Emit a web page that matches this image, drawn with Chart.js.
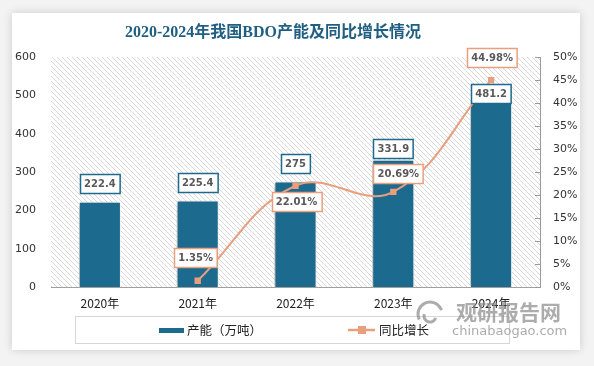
<!DOCTYPE html>
<html><head><meta charset="utf-8">
<script src="https://cdn.jsdelivr.net/npm/chart.js@4.4.1/dist/chart.umd.min.js"></script>
<style>
html,body{margin:0;padding:0;background:#f3f3f3;width:594px;height:366px;overflow:hidden}
#panel{position:absolute;left:12px;top:13px;width:568px;height:337px;background:#fff;box-shadow:0 0 9px rgba(0,0,0,0.16)}
#wrap{position:absolute;left:0;top:0;width:594px;height:366px}
</style></head><body>
<div id="panel"></div>
<div id="wrap"><canvas id="c" width="594" height="366"></canvas></div>
<script>
const categories = ['2020年','2021年','2022年','2023年','2024年'];
const capacity = [222.4, 225.4, 275, 331.9, 481.2];
const growth = [null, 1.35, 22.01, 20.69, 44.98];
const capacityLabels = ['222.4','225.4','275','331.9','481.2'];
const growthLabels = [null,'1.35%','22.01%','20.69%','44.98%'];
const titleText = '2020-2024年我国BDO产能及同比增长情况';
const legendNames = ['产能（万吨）','同比增长'];

const BLUE = '#1c6a8e';
const SALMON = '#e99f7e';
// label offsets (style): [dx, dy] relative to bar top / point
const barLabelDy = [-18, -18, -18, -11, -9];
const lineLabelOff = [null, [-2,-23], [1,16], [5,-18], [1,-22.5]];

function hatch(){
  const n = 5;
  const t = document.createElement('canvas'); t.width = n; t.height = n;
  const g = t.getContext('2d');
  g.fillStyle = '#fff'; g.fillRect(0,0,n,n);
  g.fillStyle = '#d8d8d8';
  for (let i=0;i<n;i++) g.fillRect(i,i,1,1);
  return t;
}

const bgPlugin = {
  id:'bg',
  beforeDraw(chart){
    const {ctx, chartArea:a} = chart;
    ctx.save();
    ctx.fillStyle = ctx.createPattern(hatch(),'repeat');
    ctx.fillRect(a.left, a.top, a.right-a.left, a.bottom-a.top);
    ctx.restore();
  },
  beforeDatasetDraw(chart, args){
    if (args.index === 0){
      const ctx = chart.ctx; ctx.save();
      ctx.shadowColor = 'rgba(0,0,0,0.35)'; ctx.shadowBlur = 5; ctx.shadowOffsetX = -2; ctx.shadowOffsetY = 1;
    }
  },
  afterDatasetDraw(chart, args){
    if (args.index === 0) chart.ctx.restore();
  }
};

function box(ctx, text, cx, cy, color){
  ctx.font = 'bold 10px "DejaVu Sans"';
  const w = ctx.measureText(text).width + 8, h = 19;
  const x = Math.round(cx - w/2) + 0.5, y = Math.round(cy - h/2) + 0.5;
  ctx.fillStyle = '#fff'; ctx.fillRect(x, y, w, h);
  ctx.lineWidth = 1.5; ctx.strokeStyle = color; ctx.strokeRect(x, y, w, h);
  ctx.fillStyle = '#595959'; ctx.textAlign = 'center'; ctx.textBaseline = 'middle';
  ctx.fillText(text, cx, cy + 0.5);
}

const labelPlugin = {
  id:'labels',
  afterDatasetsDraw(chart){
    const ctx = chart.ctx; ctx.save();
    const m0 = chart.getDatasetMeta(0), m1 = chart.getDatasetMeta(1);
    m0.data.forEach((el,i)=>{ box(ctx, capacityLabels[i], el.x, el.y + barLabelDy[i], BLUE); });
    m1.data.forEach((el,i)=>{ if (growthLabels[i]) box(ctx, growthLabels[i], el.x + lineLabelOff[i][0], el.y + lineLabelOff[i][1], SALMON); });
    ctx.restore();
  },
  afterDraw(chart){
    const ctx = chart.ctx; ctx.save();
    const a = chart.chartArea;
    // right axis inward ticks
    const s = chart.scales.y1;
    ctx.strokeStyle = '#9a9a9a'; ctx.lineWidth = 1;
    s.ticks.forEach(t=>{ const y = Math.round(s.getPixelForValue(t.value)) + 0.5; ctx.beginPath(); ctx.moveTo(a.right-5, y); ctx.lineTo(a.right, y); ctx.stroke(); });
    // title
    ctx.font = 'bold 16px "Liberation Serif", "Noto Sans CJK SC"';
    ctx.fillStyle = '#215f82'; ctx.textAlign = 'center'; ctx.textBaseline = 'middle';
    ctx.fillText(titleText, 273, 33);
    // legend
    ctx.strokeStyle = '#d6d6d6'; ctx.lineWidth = 1;
    ctx.strokeRect(75.5, 316.5, 434, 27);
    ctx.fillStyle = BLUE; ctx.fillRect(159, 328, 25, 5);
    ctx.font = '12.5px "Noto Sans CJK SC"'; ctx.fillStyle = '#222'; ctx.textAlign = 'left';
    ctx.fillText(legendNames[0], 187, 330);
    ctx.strokeStyle = SALMON; ctx.lineWidth = 2.5; ctx.beginPath(); ctx.moveTo(348, 330); ctx.lineTo(375, 330); ctx.stroke();
    ctx.fillStyle = SALMON; ctx.fillRect(358, 326, 8, 8);
    ctx.fillStyle = '#222'; ctx.fillText(legendNames[1], 379, 330);
    // watermark
    ctx.globalAlpha = 0.72;
    ctx.fillStyle = '#8c8c8c';
    ctx.font = 'bold 21px "Noto Sans CJK SC"'; ctx.textAlign = 'left';
    ctx.fillText('观研报告网', 456, 312);
    ctx.font = '13px "DejaVu Sans"';
    ctx.fillText('chinabaogao.com', 452, 332);
    ctx.strokeStyle = '#8c8c8c'; ctx.lineWidth = 3;
    ctx.beginPath(); ctx.arc(430, 314, 12, Math.PI*0.85, Math.PI*1.9); ctx.stroke();
    ctx.beginPath(); ctx.arc(430, 316, 6, Math.PI*0.1, Math.PI*1.1); ctx.stroke();
    ctx.restore();
  }
};

new Chart(document.getElementById('c'), {
  data: {
    labels: categories,
    datasets: [
      { type:'bar', data: capacity, backgroundColor: BLUE, borderColor:'#fff', borderWidth:1,
        barPercentage:0.43, categoryPercentage:1, yAxisID:'y', order:1 },
      { type:'line', data: growth, borderColor: SALMON, backgroundColor: SALMON, borderWidth:2,
        pointStyle:'rect', pointRadius:4.5, pointBorderWidth:0, tension:0.4, yAxisID:'y1', order:0, spanGaps:true }
    ]
  },
  options: {
    responsive:false, animation:false,
    layout:{ padding:{ left:0, right:0, top:57, bottom:49 } },
    plugins:{ legend:{display:false}, title:{display:false}, tooltip:{enabled:false} },
    scales:{
      x:{ grid:{display:false, drawTicks:false}, border:{display:true, color:'#a0a0a0'},
          ticks:{ padding:9, color:'#222', font:{ size:12, family:'"Noto Sans CJK SC"' } },
          afterFit(s){ s.height = 30; } },
      y:{ min:0, max:600, grid:{display:false, drawTicks:false}, border:{display:false},
          ticks:{ stepSize:100, padding:15, color:'#333', font:{ size:11, family:'"DejaVu Sans"' } },
          afterFit(s){ s.width = 51; } },
      y1:{ position:'right', min:0, max:50, grid:{display:false, drawTicks:false}, border:{display:true, color:'#9a9a9a'},
           ticks:{ stepSize:5, padding:13, color:'#333', font:{ size:11, family:'"DejaVu Sans"' }, callback:v=>v+'%' },
           afterFit(s){ s.width = 54; } }
    }
  },
  plugins:[bgPlugin, labelPlugin]
});
</script>
</body></html>
